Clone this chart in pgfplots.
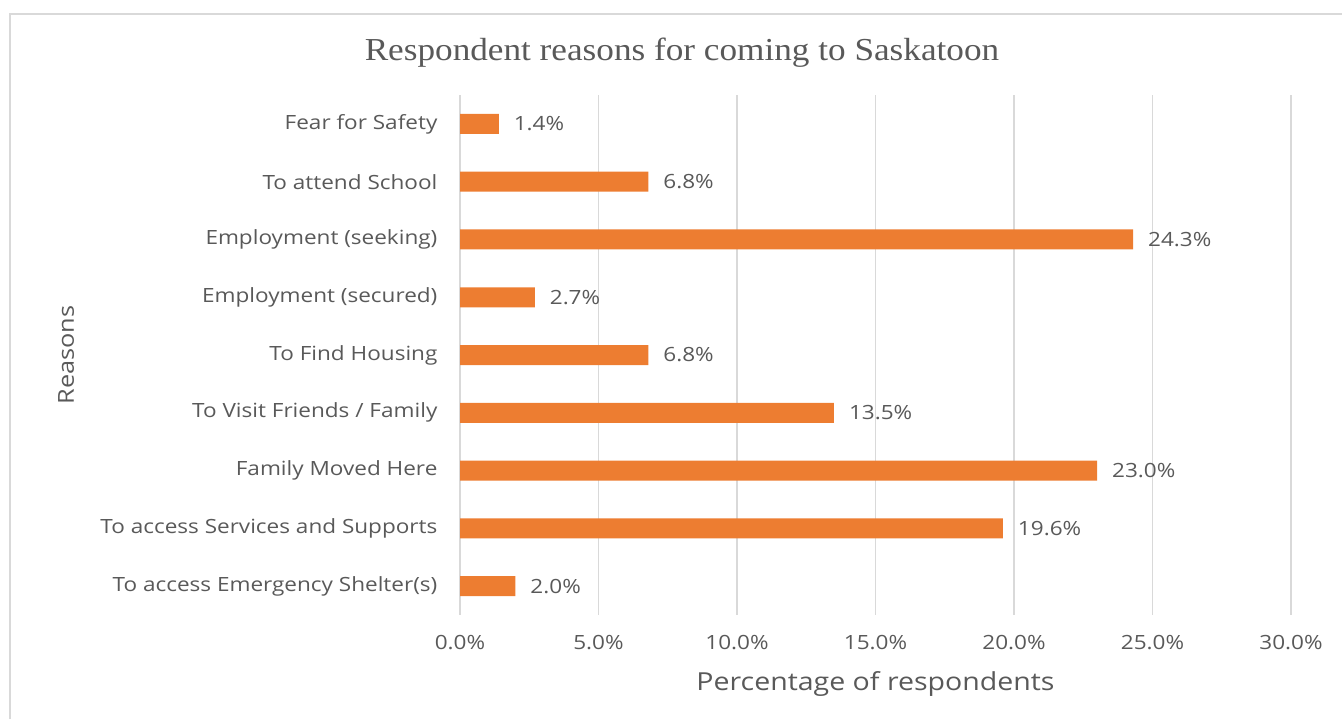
\documentclass[border=0pt]{standalone}
\usepackage{fontspec}
\setmainfont{Open Sans}[FakeStretch=1.15]
\newfontfamily\titlefont{Liberation Serif}[FakeStretch=1.1]
\usepackage{pgfplots}
\pgfplotsset{compat=1.18}
\definecolor{barorange}{HTML}{ED7D31}
\definecolor{txtgray}{HTML}{595959}
\definecolor{gridgray}{HTML}{D9D9D9}

\begin{document}
\begin{tikzpicture}
\path[use as bounding box] (0,0) rectangle (671pt,-359.5pt);
\draw[gridgray, line width=0.8pt] (5pt,-359.5pt) -- (5pt,-7pt) -- (671pt,-7pt);
\node[txtgray, font=\titlefont\fontsize{16}{19}\selectfont] at (341pt,-26.5pt)
  {Respondent reasons for coming to Saskatoon};
\begin{axis}[
  at={(230pt,-307.5pt)}, anchor=south west,
  scale only axis, width=415.5pt, height=260pt,
  xbar, bar width=10pt,
  xmin=0, xmax=30, ymin=-0.5, ymax=8.5, y dir=reverse,
  axis line style={draw=none},
  major tick style={draw=none},
  xtick={0,5,...,30},
  xmajorgrids, grid style={gridgray, line width=0.7pt},
  ytick={0,...,8},
  yticklabels={Fear for Safety, To attend School, Employment (seeking),
    Employment (secured), To Find Housing, To Visit Friends / Family,
    Family Moved Here, To access Services and Supports,
    To access Emergency Shelter(s)},
  xticklabel={\pgfmathprintnumber[fixed,fixed zerofill,precision=1]{\tick}\%},
  /pgf/number format/assume math mode=true,
  tick label style={font=\fontsize{9.8}{11.5}\selectfont, text=txtgray},
  y tick label style={xshift=-3.5pt},
  x tick label style={yshift=-6.5pt},
  xlabel={Percentage of respondents},
  ylabel={Reasons},
  label style={font=\fontsize{12.4}{14.5}\selectfont, text=txtgray},
  x label style={at={(axis description cs:0.5,-0.133)}, anchor=center},
  y label style={at={(axis description cs:-0.474,0.5)}, anchor=center, rotate=0,
    font=\fontsize{11}{13}\selectfont},
  nodes near coords={\pgfmathprintnumber[fixed,fixed zerofill,precision=1]{\pgfplotspointmeta}\%},
  point meta=x,
  nodes near coords style={font=\fontsize{9.8}{11.5}\selectfont, text=txtgray,
    anchor=west, xshift=4pt},
]
\addplot[fill=barorange, draw=none] coordinates {
  (1.4,0) (6.8,1) (24.3,2) (2.7,3) (6.8,4) (13.5,5) (23.0,6) (19.6,7) (2.0,8)
};
\end{axis}
\end{tikzpicture}
\end{document}
